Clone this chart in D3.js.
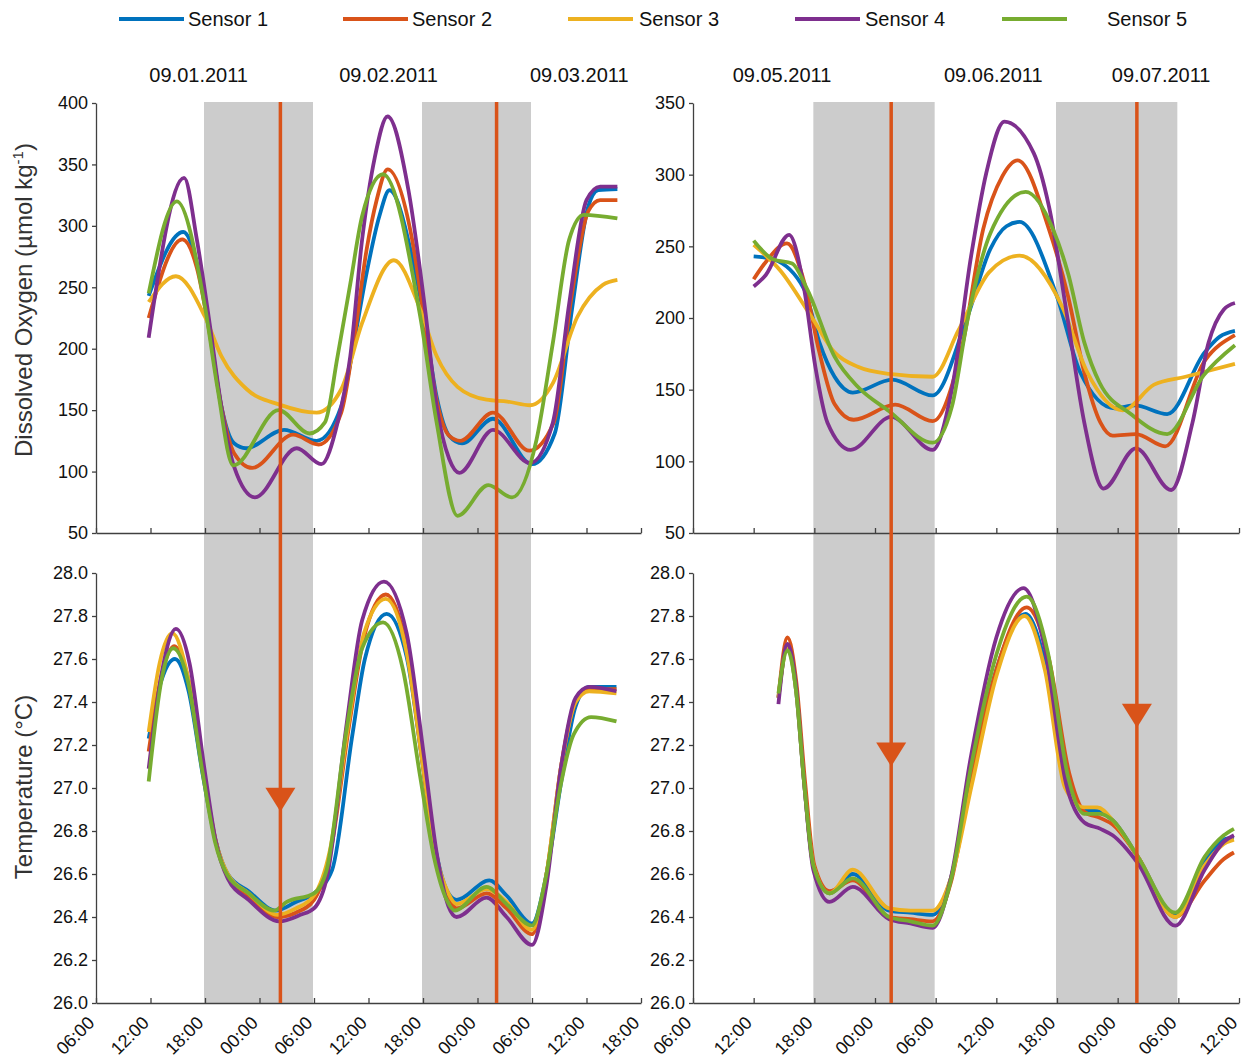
<!DOCTYPE html>
<html>
<head>
<meta charset="utf-8">
<script src="https://cdn.jsdelivr.net/npm/d3@7"></script>
<style>
  html, body { margin: 0; padding: 0; background: #fff; }
  svg { display: block; font-family: "Liberation Sans", Arial, Helvetica, sans-serif; }
</style>
</head>
<body>
<svg id="chart" width="1248" height="1061"></svg>
<script>
// ---------------- data ----------------
// Time is expressed in hours after the 06:00 that starts each panel.
const sensorNames = ["Sensor 1", "Sensor 2", "Sensor 3", "Sensor 4", "Sensor 5"];

const tickHoursLeft = [0, 6, 12, 18, 24, 30, 36, 42, 48, 54, 60];
const tickLabelsLeft = ["06:00", "12:00", "18:00", "00:00", "06:00", "12:00", "18:00", "00:00", "06:00", "12:00", "18:00"];
const tickHoursRight = [0, 6, 12, 18, 24, 30, 36, 42, 48, 54];
const tickLabelsRight = ["06:00", "12:00", "18:00", "00:00", "06:00", "12:00", "18:00", "00:00", "06:00", "12:00"];

const dateLabelsLeft = ["09.01.2011", "09.02.2011", "09.03.2011"];
const dateHoursLeft = [11.3, 32.2, 53.2];
const dateLabelsRight = ["09.05.2011", "09.06.2011", "09.07.2011"];
const dateHoursRight = [8.8, 29.7, 46.3];

const nightsLeft = [[12, 24], [36, 48]];
const nightsRight = [[12, 24], [36, 48]];

const markerHoursLeft = [20.3, 44.1];
const markerHoursRight = [19.6, 43.9];
// temperature at the tip of each arrow (null = no arrow on that line)
const arrowTempLeft = [26.89, null];
const arrowTempRight = [27.10, 27.28];

const oxygenTicksLeft = [50, 100, 150, 200, 250, 300, 350, 400];
const oxygenTicksRight = [50, 100, 150, 200, 250, 300, 350];
const tempTicks = [26.0, 26.2, 26.4, 26.6, 26.8, 27.0, 27.2, 27.4, 27.6, 27.8, 28.0];

// Dissolved oxygen, first deployment: [hour, µmol/kg]
const oxygenLeft = [
  [[5.8,243],[9.6,295],[11.1,270],[12.5,215],[13.8,153],[15.2,123],[16.5,119],[20.7,134],[24.3,125],[27,153],[28.4,205],[29.8,262],[31.2,308],[32.3,329],[34.8,275],[36.2,221],[37.5,161],[38.9,129],[40.3,123],[43.7,143],[48,106],[50.5,131],[52.4,232],[54.2,316],[55.3,329],[57.4,330]],
  [[5.8,225],[9.5,289],[11.1,266],[12.5,213],[13.8,153],[15.2,115],[17.2,103],[21.7,130],[24.5,122],[27,148],[28.4,207],[29.8,281],[30.9,321],[32.1,346],[34.8,289],[36.2,221],[37.5,158],[38.9,129],[40.1,125],[43.7,148],[47.7,117],[50.4,140],[52.3,240],[54.2,312],[55.5,321],[57.4,321]],
  [[5.8,238],[8.8,259],[12,226],[13.8,194],[16.6,167],[20.2,154.5],[24.3,148],[27,167],[29.3,221],[32.8,272],[35.7,232],[37.5,194],[39.8,169],[43,158.5],[45.3,157],[47.8,154],[50.3,172],[53,226],[55.8,252],[57.4,256]],
  [[5.8,209],[9.7,339],[11.1,289],[12.5,221],[13.8,153],[15.2,104],[17.5,79],[22.1,119],[24.8,106],[26.6,140],[28,194],[29.3,289],[30.7,356],[32.1,389],[34.4,329],[36.2,234],[37.5,153],[38.9,110],[40,99],[43.7,134],[47.8,107],[50.3,140],[52.1,237],[54,321],[55.5,332],[57.4,332]],
  [[5.8,245],[8.9,320],[12,234],[13.4,167],[15.1,105],[20.1,150],[23.5,131],[25.2,140],[26.6,194],[28,253],[29.3,308],[31.6,342],[35.7,226],[37.5,140],[39.8,64],[43.2,89],[45.8,79],[48.5,126],[50.3,205],[52.1,289],[53.7,309],[57.4,306]]
];

// Dissolved oxygen, second deployment: [hour, µmol/kg]
const oxygenRight = [
  [[6,243],[7.9,241],[11,220],[12.5,183],[14,159],[15.8,148],[19.7,157],[23.7,146],[27.1,200],[29.4,248],[31,264],[32.3,267],[36,215],[38.3,162],[41.7,137],[43.7,139],[46.9,133],[50.6,176],[52.1,187],[53.6,191]],
  [[6,227],[7.3,240],[9.3,252],[11,225],[12.5,176],[14,140],[15.9,129],[20,139.5],[23.7,128],[26.7,183],[28.7,262],[30.6,299],[32.1,310],[35.2,262],[37.1,215],[38.7,162],[40.3,127],[41.5,118],[43.8,119],[46.7,110.5],[50.6,170],[53.6,188]],
  [[6,251],[8.65,233],[11.7,201],[14,176],[16.3,166],[19.4,161],[23.7,159],[26.3,192],[29.3,232],[32.3,243.5],[36.5,208],[39,162],[42.5,135.6],[45.6,153.5],[48.7,159],[53.6,168]],
  [[6,222],[7.2,230],[9.5,258],[11,220],[12.1,166],[13.3,127],[15.6,108],[19.6,131],[23.7,108],[25.6,150],[27.5,243],[29,301],[30.8,337],[33.7,315],[35.2,278],[37.1,197],[38.7,127],[40.6,81],[43.8,109],[47.3,80],[49.4,127],[51,183],[52.5,206],[53.6,210.5]],
  [[6,254],[7.9,241],[9.8,238],[11.3,220],[14,173],[16.3,152],[19.4,135],[23.7,113],[25.6,138],[27.1,197],[29.4,259],[32.9,288],[35.6,262],[37.1,231],[38.7,183],[40.2,155],[43.3,133],[46.9,119],[50.5,160],[53.6,181]]
];

// Temperature, first deployment: [hour, °C]
const tempLeft = [
  [[5.8,27.23],[7.2,27.5],[8.7,27.6],[10.2,27.45],[11.8,27.05],[13.2,26.75],[14.5,26.6],[16.8,26.52],[19.8,26.43],[22,26.47],[24,26.51],[26,26.62],[28.2,27.24],[29.6,27.6],[32,27.81],[34.2,27.61],[36,27.1],[37.4,26.71],[38.8,26.51],[39.7,26.48],[43.3,26.57],[45.2,26.5],[48,26.37],[49.6,26.6],[51.3,27.05],[52.8,27.38],[54.3,27.47],[57.3,27.47]],
  [[5.8,27.17],[7.2,27.52],[8.6,27.66],[10.2,27.5],[11.8,27.08],[13.2,26.75],[14.5,26.59],[16.8,26.5],[20,26.4],[22,26.42],[24,26.48],[25.8,26.7],[27.9,27.3],[29.5,27.7],[31.9,27.9],[34.2,27.65],[36,27.1],[37.4,26.68],[38.8,26.5],[39.7,26.44],[43,26.51],[45.2,26.44],[48,26.32],[49.6,26.6],[51.2,27.1],[52.8,27.4],[54.3,27.46],[57.3,27.46]],
  [[5.8,27.26],[7,27.58],[8.4,27.72],[10.1,27.52],[11.8,27.08],[13.2,26.75],[14.5,26.6],[16.8,26.51],[20,26.41],[22,26.44],[24,26.5],[25.7,26.7],[27.8,27.3],[29.5,27.72],[31.9,27.88],[34.2,27.63],[36,27.1],[37.4,26.7],[38.8,26.51],[39.7,26.46],[43,26.53],[45.2,26.47],[48,26.34],[49.6,26.6],[51.2,27.1],[52.8,27.4],[54.3,27.45],[57.3,27.44]],
  [[5.8,27.09],[7.3,27.55],[8.8,27.74],[10.3,27.58],[11.9,27.1],[13.2,26.75],[14.5,26.58],[16.8,26.48],[20.2,26.38],[22.5,26.41],[24,26.44],[25.5,26.6],[27.6,27.3],[29.3,27.78],[31.7,27.96],[34.2,27.72],[36.1,27.15],[37.5,26.7],[38.8,26.45],[39.7,26.4],[43,26.49],[45.2,26.4],[48,26.27],[49.6,26.55],[51.2,27.1],[52.8,27.42],[54.3,27.47],[57.3,27.45]],
  [[5.8,27.03],[7.2,27.5],[8.5,27.65],[10.1,27.5],[11.7,27.08],[13.1,26.75],[14.4,26.6],[16.8,26.51],[19.6,26.43],[21,26.47],[24,26.51],[25.4,26.62],[27.5,27.25],[29.3,27.65],[31.6,27.77],[33.8,27.55],[35.7,27.05],[37.2,26.68],[38.6,26.48],[39.5,26.43],[43,26.54],[45.2,26.46],[48,26.36],[49.5,26.58],[51.1,27.0],[52.6,27.25],[54.5,27.33],[57.3,27.31]]
];

// Temperature, second deployment: [hour, °C]
const tempRight = [
  [[8.45,27.42],[9.35,27.66],[10.2,27.45],[11,27.02],[11.9,26.64],[13.5,26.51],[15.8,26.6],[19.4,26.43],[21.5,26.42],[23.7,26.41],[25.5,26.58],[27.5,27.05],[30,27.55],[32.9,27.81],[35,27.55],[37,27.05],[38.7,26.9],[40.3,26.89],[41.5,26.85],[44,26.68],[47.7,26.41],[50.6,26.66],[52.5,26.76],[53.5,26.77]],
  [[8.45,27.42],[9.35,27.70],[10.2,27.5],[11.1,27.02],[12,26.64],[13.5,26.52],[15.8,26.57],[19.4,26.4],[21.5,26.39],[23.7,26.38],[25.5,26.56],[27.5,27.05],[30,27.55],[33,27.84],[35.2,27.6],[37.2,27.07],[38.7,26.89],[40.3,26.86],[41.5,26.83],[44,26.68],[47.7,26.4],[50.6,26.57],[52.5,26.67],[53.5,26.7]],
  [[8.45,27.42],[9.35,27.65],[10.2,27.45],[11,27.02],[11.9,26.64],[13.5,26.51],[15.8,26.62],[19.4,26.44],[21.5,26.43],[23.7,26.43],[25.5,26.58],[27.6,27.02],[30,27.52],[32.8,27.8],[34.8,27.55],[36.8,27.0],[38.7,26.91],[40,26.91],[41.5,26.85],[44,26.68],[47.7,26.4],[50.6,26.64],[52.5,26.74],[53.5,26.76]],
  [[8.45,27.39],[9.35,27.67],[10.2,27.47],[11,27.02],[11.9,26.62],[13.5,26.47],[15.8,26.54],[19.4,26.39],[21.5,26.37],[23.7,26.35],[25.5,26.58],[27.5,27.15],[30,27.7],[32.7,27.93],[34.8,27.65],[36.9,27.02],[38.7,26.84],[40.3,26.81],[41.5,26.78],[44,26.65],[47.7,26.36],[50.6,26.62],[52.5,26.75],[53.5,26.78]],
  [[8.45,27.44],[9.35,27.64],[10.2,27.45],[11,27.02],[11.9,26.64],[13.5,26.51],[15.8,26.58],[19.4,26.4],[21.5,26.38],[23.7,26.36],[25.5,26.57],[27.5,27.1],[30,27.62],[33,27.89],[35.1,27.63],[37.1,27.05],[38.7,26.88],[40.3,26.88],[41.5,26.85],[44,26.68],[47.7,26.42],[50.6,26.68],[52.5,26.78],[53.5,26.81]]
];

// ---------------- styling ----------------
const sensorColors = ["#0072BD", "#D95319", "#EDB120", "#7E2F8E", "#77AC30"];
const markerColor = "#D95319";
const nightColor = "#cccccc";
const axisColor = "#404040";

const svg = d3.select("#chart");

const topY = [533, 103];     // oxygen plots (bottom, top)
const botY = [1003, 573];    // temperature plots (bottom, top)

const panels = [
  {
    range: [96, 641], hours: [0, 60],
    tickHours: tickHoursLeft, tickLabels: tickLabelsLeft,
    dates: dateLabelsLeft, dateHours: dateHoursLeft,
    nights: nightsLeft, markers: markerHoursLeft, arrows: arrowTempLeft,
    oxygen: oxygenLeft, oxygenDomain: [50, 400], oxygenTicks: oxygenTicksLeft,
    temp: tempLeft
  },
  {
    range: [693, 1239], hours: [0, 54],
    tickHours: tickHoursRight, tickLabels: tickLabelsRight,
    dates: dateLabelsRight, dateHours: dateHoursRight,
    nights: nightsRight, markers: markerHoursRight, arrows: arrowTempRight,
    oxygen: oxygenRight, oxygenDomain: [50, 350], oxygenTicks: oxygenTicksRight,
    temp: tempRight
  }
];

const tempScale = d3.scaleLinear().domain([26, 28]).range(botY);

function styleAxis(g) {
  g.select(".domain").attr("stroke", axisColor).attr("stroke-width", 1.3);
  g.selectAll(".tick line").attr("stroke", axisColor).attr("stroke-width", 1.3);
  g.selectAll(".tick text")
    .attr("fill", "#111")
    .style("font-size", "18px")
    .style("font-family", "'Liberation Sans', Arial, sans-serif");
}

panels.forEach(p => {
  const x = d3.scaleLinear().domain(p.hours).range(p.range);
  const yO = d3.scaleLinear().domain(p.oxygenDomain).range(topY);

  // night shading spans both plots
  svg.append("g").selectAll("rect")
    .data(p.nights).join("rect")
    .attr("x", d => x(d[0]) - 1)
    .attr("width", d => x(d[1]) - x(d[0]))
    .attr("y", topY[1] - 1)
    .attr("height", botY[0] - topY[1] + 1)
    .attr("fill", nightColor);

  // oxygen axes
  const xTop = svg.append("g")
    .attr("transform", `translate(0,${topY[0]})`)
    .call(d3.axisBottom(x).tickValues(p.tickHours).tickSize(-5).tickSizeOuter(0).tickFormat(""));
  styleAxis(xTop);

  const yTop = svg.append("g")
    .attr("transform", `translate(${p.range[0]},0)`)
    .call(d3.axisLeft(yO).tickValues(p.oxygenTicks).tickSize(4).tickSizeOuter(0).tickPadding(4));
  styleAxis(yTop);

  // temperature axes
  const xBot = svg.append("g")
    .attr("transform", `translate(0,${botY[0]})`)
    .call(d3.axisBottom(x).tickValues(p.tickHours).tickSize(-5).tickSizeOuter(0)
      .tickFormat((d, i) => p.tickLabels[i]));
  styleAxis(xBot);
  xBot.selectAll(".tick text")
    .attr("x", null).attr("y", null).attr("dy", null)
    .attr("text-anchor", "end")
    .attr("transform", "translate(-1,21) rotate(-45)");

  const yBot = svg.append("g")
    .attr("transform", `translate(${p.range[0]},0)`)
    .call(d3.axisLeft(tempScale).tickValues(tempTicks).tickSize(4).tickSizeOuter(0).tickPadding(4)
      .tickFormat(d3.format(".1f")));
  styleAxis(yBot);

  // sensor curves
  const lineO = d3.line().x(d => x(d[0])).y(d => yO(d[1])).curve(d3.curveMonotoneX);
  const lineT = d3.line().x(d => x(d[0])).y(d => tempScale(d[1])).curve(d3.curveMonotoneX);

  svg.append("g").selectAll("path")
    .data(p.oxygen).join("path")
    .attr("d", lineO)
    .attr("fill", "none")
    .attr("stroke", (d, i) => sensorColors[i])
    .attr("stroke-width", 3.8)
    .attr("stroke-linejoin", "round");

  svg.append("g").selectAll("path")
    .data(p.temp).join("path")
    .attr("d", lineT)
    .attr("fill", "none")
    .attr("stroke", (d, i) => sensorColors[i])
    .attr("stroke-width", 3.8)
    .attr("stroke-linejoin", "round");

  // vertical event markers
  svg.append("g").selectAll("line")
    .data(p.markers).join("line")
    .attr("x1", d => x(d)).attr("x2", d => x(d))
    .attr("y1", topY[1] - 1).attr("y2", botY[0])
    .attr("stroke", markerColor)
    .attr("stroke-width", 3.5);

  // downward arrows on the temperature plot
  svg.append("g").selectAll("path")
    .data(p.markers.map((h, i) => ({ h, t: p.arrows[i] })).filter(d => d.t !== null))
    .join("path")
    .attr("d", d => {
      const cx = x(d.h), tip = tempScale(d.t);
      return `M${cx - 15},${tip - 24}L${cx + 15},${tip - 24}L${cx},${tip}Z`;
    })
    .attr("fill", markerColor);

  // date labels
  svg.append("g").selectAll("text")
    .data(p.dates).join("text")
    .attr("x", (d, i) => x(p.dateHours[i]))
    .attr("y", 82)
    .attr("text-anchor", "middle")
    .style("font-size", "20px")
    .attr("fill", "#111")
    .text(d => d);
});

// axis titles
const doTitle = svg.append("text")
  .attr("transform", "translate(32,300) rotate(-90)")
  .attr("text-anchor", "middle")
  .style("font-size", "24px")
  .attr("fill", "#333");
doTitle.append("tspan").text("Dissolved Oxygen (µmol kg");
doTitle.append("tspan").attr("dy", -9).style("font-size", "15px").text("-1");
doTitle.append("tspan").attr("dy", 9).text(")");

svg.append("text")
  .attr("transform", "translate(32,787) rotate(-90)")
  .attr("text-anchor", "middle")
  .style("font-size", "24px")
  .attr("fill", "#333")
  .text("Temperature (°C)");

// legend
const legendLineX = [119, 343, 568, 795, 1002];
const legendTextX = [188, 412, 639, 865, 1107];
const legend = svg.append("g");
sensorNames.forEach((name, i) => {
  legend.append("line")
    .attr("x1", legendLineX[i]).attr("x2", legendLineX[i] + 65)
    .attr("y1", 19).attr("y2", 19)
    .attr("stroke", sensorColors[i]).attr("stroke-width", 4);
  legend.append("text")
    .attr("x", legendTextX[i]).attr("y", 26)
    .style("font-size", "20px")
    .attr("fill", "#111")
    .text(name);
});
</script>
</body>
</html>
